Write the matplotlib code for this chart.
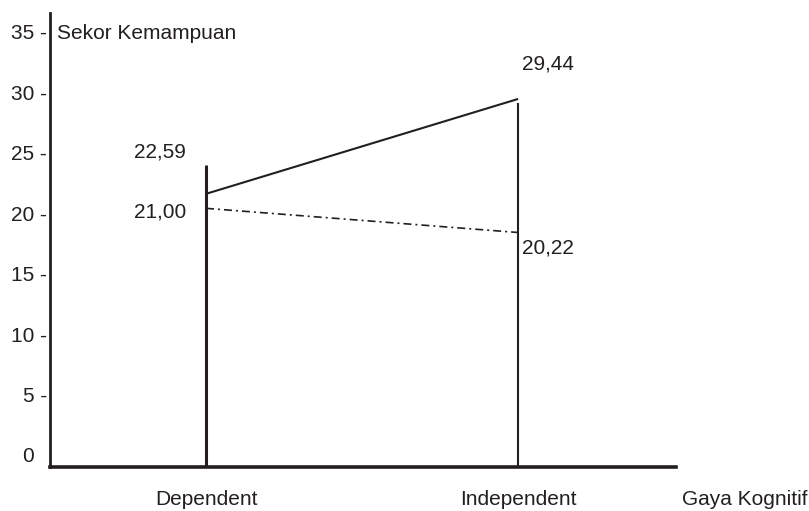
import matplotlib.pyplot as plt

# data
groups = ["Dependent", "Independent"]
x_title = "Gaya Kognitif"
y_title = "Sekor Kemampuan"
y_ticks = [0, 5, 10, 15, 20, 25, 30, 35]

# garis seperti yang tergambar
solid_vals = [21.6, 29.45]
dashdot_vals = [20.4, 18.4]
vline_tops = [24.0, 29.1]

# label nilai
solid_labels = ["22,59", "29,44"]
dashdot_labels = ["21,00", "20,22"]

ink = "#231f20"
plt.rcParams['font.family'] = ['Liberation Sans', 'DejaVu Sans']
plt.rcParams['font.size'] = 15

fig = plt.figure(figsize=(8.09, 5.11), dpi=100)
ax = fig.add_axes([50/809, 44/511, 626/809, 454/511])
ax.set_xlim(-0.5, 1.506)
ax.set_ylim(-1.0, 36.56)

for s in ["top", "right"]:
    ax.spines[s].set_visible(False)
ax.spines["left"].set_linewidth(2.0)
ax.spines["bottom"].set_linewidth(2.6)
ax.spines["left"].set_color(ink)
ax.spines["bottom"].set_color(ink)
ax.set_xticks([])
ax.set_yticks([])

xs = range(len(groups))

# garis vertikal
ax.vlines(xs[0], -1.0, vline_tops[0], color=ink, lw=2.2)
ax.vlines(xs[1], -1.0, vline_tops[1], color=ink, lw=1.5)

ax.plot(xs, solid_vals, color=ink, lw=1.5, solid_capstyle='butt')
ax.plot(xs, dashdot_vals, color=ink, lw=1.2, linestyle=(0, (4.8, 2.4, 1.2, 2.4)))

# label sumbu y
ytr = ax.get_yaxis_transform()
for t in y_ticks:
    if t == 0:
        ax.annotate("0", xy=(0, t), xycoords=ytr, xytext=(-16, 0),
                    textcoords='offset pixels', ha='right', va='center_baseline', color=ink)
    else:
        ax.annotate(f"{t} -", xy=(0, t), xycoords=ytr, xytext=(-3, 0),
                    textcoords='offset pixels', ha='right', va='center_baseline', color=ink)

ax.annotate(y_title, xy=(0, 35), xycoords=ytr, xytext=(7, 0),
            textcoords='offset pixels', ha='left', va='center_baseline', color=ink)

# label sumbu x
xtr = ax.get_xaxis_transform()
for i, g in enumerate(groups):
    ax.annotate(g, xy=(i, 0), xycoords=xtr, xytext=(0, -30),
                textcoords='offset pixels', ha='center', va='center_baseline', color=ink)
ax.annotate(x_title, xy=(1, 0), xycoords='axes fraction', xytext=(131, -30),
            textcoords='offset pixels', ha='right', va='center_baseline', color=ink)

# label nilai
ax.annotate(solid_labels[0], xy=(0, solid_vals[0]), xytext=(-20, 44),
            textcoords='offset pixels', ha='right', va='center_baseline', color=ink)
ax.annotate(dashdot_labels[0], xy=(0, dashdot_vals[0]), xytext=(-20, -2),
            textcoords='offset pixels', ha='right', va='center_baseline', color=ink)
ax.annotate(solid_labels[1], xy=(1, solid_vals[1]), xytext=(4, 37),
            textcoords='offset pixels', ha='left', va='center_baseline', color=ink)
ax.annotate(dashdot_labels[1], xy=(1, dashdot_vals[1]), xytext=(4, -13),
            textcoords='offset pixels', ha='left', va='center_baseline', color=ink)

fig.savefig("out.png", dpi=100)
